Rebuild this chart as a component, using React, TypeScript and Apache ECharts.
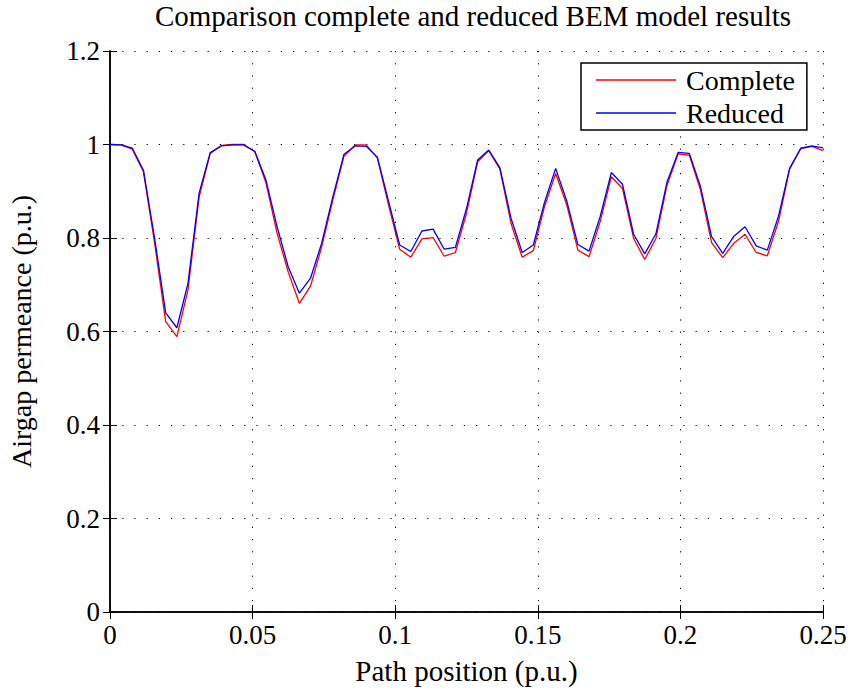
import React, { useEffect, useRef } from "react";
import * as echarts from "echarts";

const TITLE = "Comparison complete and reduced BEM model results";
const X_NAME = "Path position (p.u.)";
const Y_NAME = "Airgap permeance (p.u.)";
const SERIES_NAMES = ["Complete", "Reduced"];
const X_MAX = 0.25;
const N_POINTS = 65;

const complete = [
  1.0, 0.999, 0.99, 0.942, 0.79, 0.621, 0.589, 0.689, 0.888, 0.981, 0.998, 1.0, 1.0,
  0.985, 0.918, 0.81, 0.727, 0.66, 0.697, 0.781, 0.881, 0.975, 0.999, 0.999, 0.971,
  0.871, 0.776, 0.759, 0.798, 0.801, 0.761, 0.769, 0.853, 0.963, 0.987, 0.947, 0.831,
  0.759, 0.773, 0.867, 0.938, 0.871, 0.774, 0.76, 0.835, 0.931, 0.906, 0.799, 0.754,
  0.799, 0.913, 0.98, 0.977, 0.903, 0.79, 0.758, 0.789, 0.808, 0.769, 0.762, 0.835,
  0.947, 0.991, 0.996, 0.987,
];

const reduced = [
  1.0, 0.999, 0.992, 0.945, 0.8, 0.64, 0.608, 0.703, 0.896, 0.983, 0.997, 0.999, 0.999,
  0.985, 0.924, 0.824, 0.738, 0.682, 0.714, 0.789, 0.888, 0.979, 0.997, 0.996, 0.973,
  0.879, 0.785, 0.771, 0.815, 0.819, 0.776, 0.78, 0.863, 0.967, 0.988, 0.95, 0.842,
  0.769, 0.785, 0.876, 0.949, 0.879, 0.786, 0.772, 0.846, 0.94, 0.915, 0.808, 0.766,
  0.809, 0.92, 0.983, 0.981, 0.91, 0.803, 0.767, 0.804, 0.824, 0.783, 0.774, 0.846,
  0.949, 0.992, 0.997, 0.993,
];

const FONT = "Liberation Serif";

export default function App() {
  const ref = useRef<HTMLDivElement>(null);
  useEffect(() => {
    document.body.style.margin = "0";
    const chart = echarts.init(ref.current!, null, { renderer: "svg" });
    const step = X_MAX / (N_POINTS - 1);
    const toPairs = (arr: number[]) => arr.map((v, i) => [i * step, v]);
    const gridLine = { show: true, lineStyle: { color: "#000", width: 1, type: [1.2, 11] as any } };
    const hiddenAxisCommon = {
      axisLabel: { show: false },
      splitLine: { show: false },
      axisLine: { show: true, lineStyle: { color: "#000", width: 1.5 } },
      axisTick: { show: true, inside: true, length: 7, lineStyle: { color: "#000", width: 1 } },
    };
    chart.setOption({
      animation: false,
      backgroundColor: "#fff",
      title: {
        text: TITLE,
        left: 468,
        textAlign: "center",
        top: -4,
        textStyle: { fontFamily: FONT, fontSize: 29, fontWeight: "normal", color: "#000" },
      },
      grid: { left: 110, right: 25, top: 51, bottom: 81, outerBoundsMode: "none", containLabel: false },
      legend: {
        left: 581,
        top: 63,
        orient: "vertical",
        backgroundColor: "#fff",
        borderColor: "#000",
        borderWidth: 1.5,
        borderRadius: 0,
        padding: [3, 12, 3, 15],
        itemGap: 5,
        itemWidth: 80,
        itemHeight: 1.5,
        icon: "rect",
        textStyle: { fontFamily: FONT, fontSize: 28, color: "#000", padding: [0, 0, 0, 5] },
        data: SERIES_NAMES,
      },
      xAxis: [
        {
          type: "value",
          min: 0,
          max: X_MAX,
          interval: 0.05,
          position: "bottom",
          name: X_NAME,
          nameLocation: "middle",
          nameGap: 44,
          nameTextStyle: { fontFamily: FONT, fontSize: 29, color: "#000" },
          axisLine: { show: true, onZero: false, lineStyle: { color: "#000", width: 1.5 } },
          axisTick: { show: true, inside: true, length: 7, lineStyle: { color: "#000", width: 1 } },
          axisLabel: { fontFamily: FONT, fontSize: 27, color: "#000", margin: 9 },
          splitLine: gridLine,
        },
        {
          type: "value",
          min: 0,
          max: X_MAX,
          interval: 0.05,
          position: "top",
          ...hiddenAxisCommon,
        },
      ],
      yAxis: [
        {
          type: "value",
          min: 0,
          max: 1.2,
          interval: 0.2,
          position: "left",
          name: Y_NAME,
          nameLocation: "middle",
          nameGap: 75,
          nameTextStyle: { fontFamily: FONT, fontSize: 28, color: "#000" },
          axisLine: { show: true, onZero: false, lineStyle: { color: "#000", width: 1.5 } },
          axisTick: { show: true, inside: true, length: 7, lineStyle: { color: "#000", width: 1 } },
          axisLabel: { fontFamily: FONT, fontSize: 27, color: "#000", margin: 10 },
          splitLine: gridLine,
        },
        {
          type: "value",
          min: 0,
          max: 1.2,
          interval: 0.2,
          position: "right",
          ...hiddenAxisCommon,
        },
      ],
      series: [
        {
          name: SERIES_NAMES[0],
          type: "line",
          data: toPairs(complete),
          symbol: "none",
          lineStyle: { color: "#ff0000", width: 1.3 },
          itemStyle: { color: "#ff0000" },
        },
        {
          name: SERIES_NAMES[1],
          type: "line",
          data: toPairs(reduced),
          symbol: "none",
          lineStyle: { color: "#0000ff", width: 1.3 },
          itemStyle: { color: "#0000ff" },
        },
      ],
    });
    return () => chart.dispose();
  }, []);
  return <div ref={ref} style={{ position: "absolute", left: 0, top: 0, width: 848, height: 693 }} />;
}
